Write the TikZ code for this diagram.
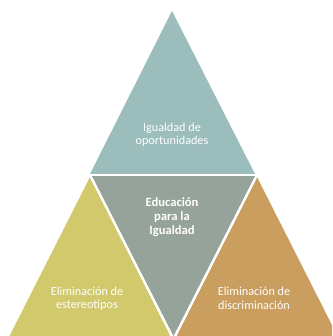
\documentclass[tikz,border=0pt]{standalone}
\usepackage{fontspec}
\setmainfont{Carlito}
\definecolor{cTop}{HTML}{9BBDBC}
\definecolor{cMid}{HTML}{95A39A}
\definecolor{cLeft}{HTML}{D1C96C}
\definecolor{cRight}{HTML}{C99E5E}
\begin{document}
\begin{tikzpicture}[x=1pt,y=-1pt,
  tri/.style={draw=white,line width=2.6pt,line join=miter},
  lbl/.style={text=white,align=center,font=\fontsize{12.2}{13.5}\selectfont},
  lblb/.style={text=white,align=center,font=\fontsize{12.6}{14.2}\selectfont\bfseries}]
\useasboundingbox (0,0) rectangle (332,336);
\begin{scope}
\clip (0,0) rectangle (332,336);
\fill[cLeft] (90,177) -- (172,339) -- (8,339) -- cycle;
\fill[cRight] (257,177) -- (339,339) -- (175,339) -- cycle;
\fill[cMid] (91,176) -- (256,176) -- (173.5,338) -- cycle;
\fill[cTop] (172,11) -- (255,174) -- (90,174) -- cycle;
\draw[white,line width=2.4pt] (88,175.2) -- (259,175.2);
\draw[white,line width=2.4pt] (90,175) -- (173.5,339);
\draw[white,line width=2.4pt] (257,175) -- (173.5,339);
\end{scope}
\node[lbl] (top) at (172,134.5) {Igualdad de\\oportunidades};
\node[lblb] (mid) at (172,217) {Educación\\para la\\Igualdad};
\node[lbl] (left) at (87,298.5) {Eliminación de\\estereotipos};
\node[lbl] (right) at (254,298.5) {Eliminación de\\discriminación};
\end{tikzpicture}
\end{document}
